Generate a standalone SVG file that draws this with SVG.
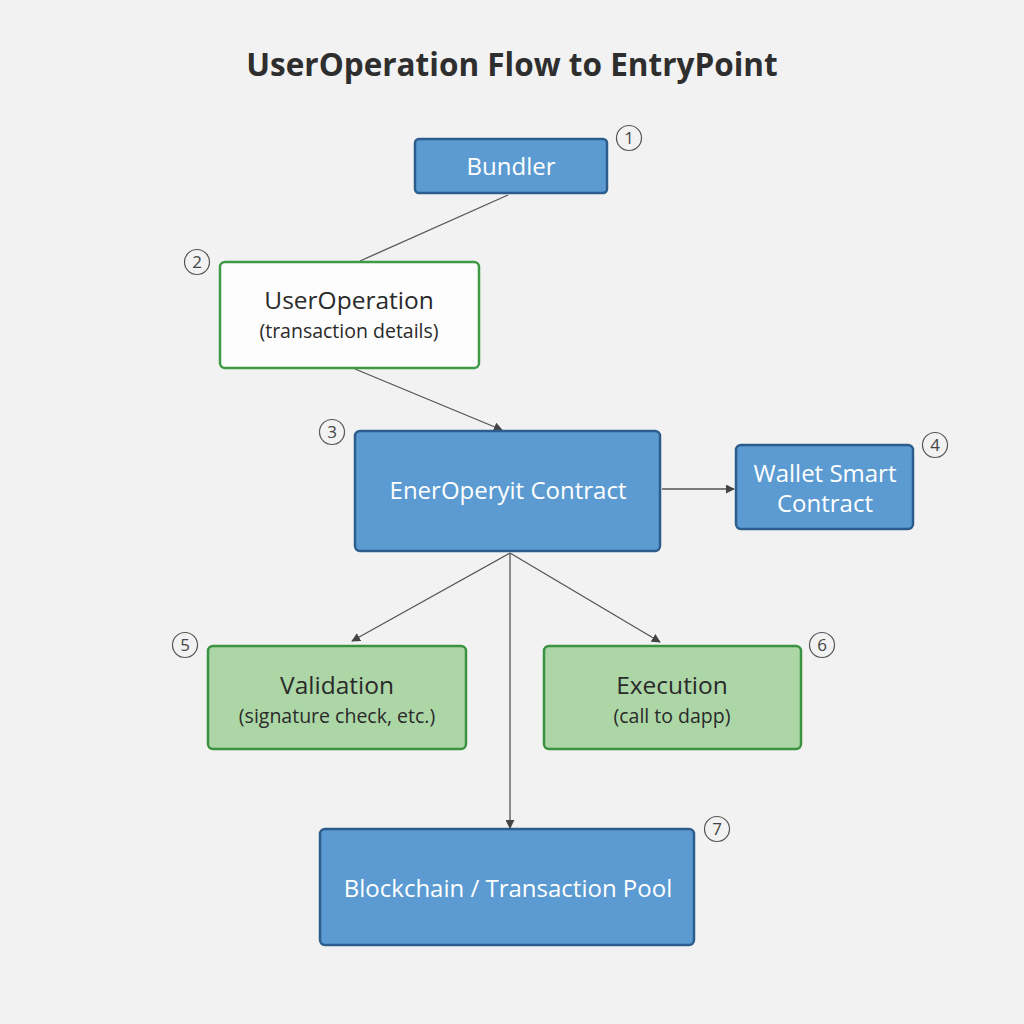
<svg xmlns="http://www.w3.org/2000/svg" width="1024" height="1024" viewBox="0 0 1024 1024">
<defs>
<marker id="arr" viewBox="0 0 10 10" refX="9" refY="5" markerWidth="9" markerHeight="9" markerUnits="userSpaceOnUse" orient="auto"><path d="M0,0 L10,5 L0,10 z" fill="#444"/></marker>
<style>
text{font-family:"Open Sans","Liberation Sans",sans-serif;text-anchor:middle}
.blue{fill:#5b9bd1;stroke:#2c5d8c;stroke-width:2.5}
.green{fill:#acd6a6;stroke:#3b9341;stroke-width:2.5}
.white{fill:#fdfdfd;stroke:#3f9a45;stroke-width:2.5}
.wt{fill:#fff;font-size:24px}
.dt{fill:#2a2a2a;font-size:24.5px}
.st{fill:#2a2a2a;font-size:19.5px}
.num circle{fill:none;stroke:#555;stroke-width:1.2}
.num text{fill:#444;font-size:17px}
.conn line{stroke:#555;stroke-width:1.3;fill:none}
</style>
</defs>
<rect width="1024" height="1024" fill="#f2f2f2"/>
<text x="512" y="76" style="font-size:31.5px;font-weight:bold;fill:#2e2e2e">UserOperation Flow to EntryPoint</text>
<g id="connectors" class="conn">
<line x1="508" y1="195" x2="360" y2="261"/>
<line x1="355" y1="369" x2="502" y2="430" marker-end="url(#arr)"/>
<line x1="662" y1="489" x2="734" y2="489" marker-end="url(#arr)"/>
<line x1="510" y1="553" x2="352" y2="641" marker-end="url(#arr)"/>
<line x1="510" y1="553" x2="660" y2="642" marker-end="url(#arr)"/>
<line x1="510" y1="553" x2="510" y2="828" marker-end="url(#arr)"/>
</g>
<g id="bundler">
<rect class="blue" x="415" y="139" width="192" height="54" rx="4"/>
<text class="wt" x="511" y="175">Bundler</text>
<g class="num"><circle cx="629" cy="138" r="12.5"/><text x="629" y="144">1</text></g>
</g>
<g id="useroperation">
<rect class="white" x="220" y="262" width="259" height="106" rx="5"/>
<text class="dt" x="349" y="309">UserOperation</text>
<text class="st" x="349" y="338">(transaction details)</text>
<g class="num"><circle cx="197" cy="262" r="12.5"/><text x="197" y="268">2</text></g>
</g>
<g id="entrypoint">
<rect class="blue" x="355" y="431" width="305" height="120" rx="5"/>
<text class="wt" x="508" y="499">EnerOperyit Contract</text>
<g class="num"><circle cx="332" cy="432" r="12.5"/><text x="332" y="438">3</text></g>
</g>
<g id="wallet">
<rect class="blue" x="736" y="445" width="177" height="84" rx="5"/>
<text class="wt" x="825" y="482">Wallet Smart</text>
<text class="wt" x="825" y="512">Contract</text>
<g class="num"><circle cx="935" cy="445" r="12.5"/><text x="935" y="451">4</text></g>
</g>
<g id="validation">
<rect class="green" x="208" y="646" width="258" height="103" rx="5"/>
<text class="dt" x="337" y="694">Validation</text>
<text class="st" x="337" y="723">(signature check, etc.)</text>
<g class="num"><circle cx="185" cy="645" r="12.5"/><text x="185" y="651">5</text></g>
</g>
<g id="execution">
<rect class="green" x="544" y="646" width="257" height="103" rx="5"/>
<text class="dt" x="672" y="694">Execution</text>
<text class="st" x="672" y="723">(call to dapp)</text>
<g class="num"><circle cx="822" cy="645" r="12.5"/><text x="822" y="651">6</text></g>
</g>
<g id="blockchain">
<rect class="blue" x="320" y="829" width="374" height="116" rx="5"/>
<text class="wt" x="508" y="897">Blockchain / Transaction Pool</text>
<g class="num"><circle cx="717" cy="829" r="12.5"/><text x="717" y="835">7</text></g>
</g>
</svg>
